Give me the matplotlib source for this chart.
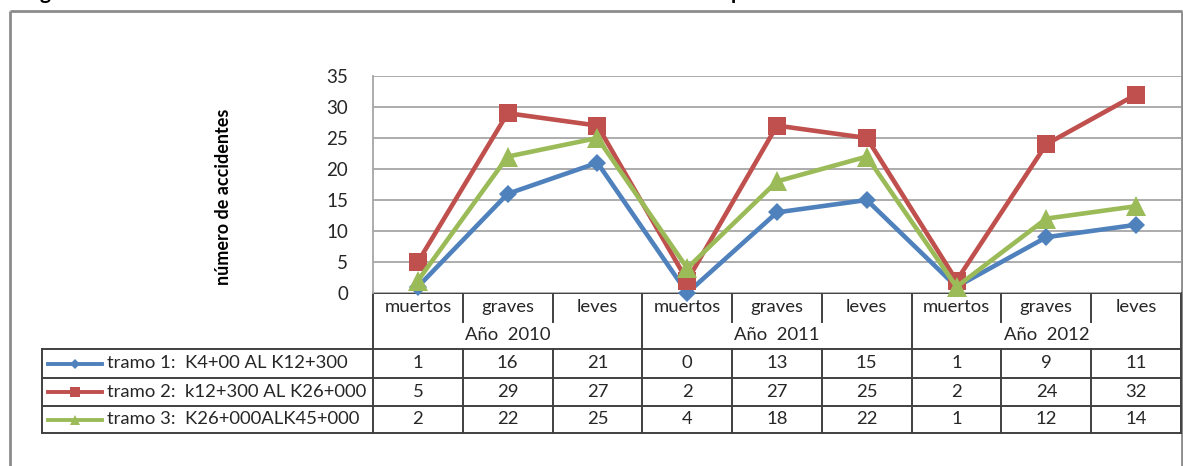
import numpy as np
from matplotlib import pyplot as plt
from matplotlib.lines import Line2D

# Accidents per road section, grouped by year and severity
categories = ['muertos', 'graves', 'leves'] * 3
years = ['Año  2010', 'Año  2011', 'Año  2012']
tramo_names = ['tramo 1:  K4+00 AL K12+300',
               'tramo 2:  k12+300 AL K26+000',
               'tramo 3:  K26+000ALK45+000']
tramo1 = [1, 16, 21, 0, 13, 15, 1, 9, 11]
tramo2 = [5, 29, 27, 2, 27, 25, 2, 24, 32]
tramo3 = [2, 22, 25, 4, 18, 22, 1, 12, 14]
y_ticks = [0, 5, 10, 15, 20, 25, 30, 35]

series = [tramo1, tramo2, tramo3]
colors = ['#4F81BD', '#C0504D', '#9BBB59']
markers = ['D', 's', '^']
msizes = [9.5, 13.5, 14]

FONT = ['Lato', 'DejaVu Sans']
TXT = '#262626'
GRID = '#a6a6a6'
TABLE = '#404040'

W, H = 1183, 466
fig = plt.figure(figsize=(W / 100, H / 100), dpi=100)

# overlay in pixel units (y grows downward) for frame and data table
ov = fig.add_axes([0, 0, 1, 1], zorder=0)
ov.set_xlim(0, W)
ov.set_ylim(H, 0)
ov.axis('off')

# plot area
left, right, top, bottom = 373, 1181, 76, 293
ax = fig.add_axes([left / W, 1 - bottom / H, (right - left) / W, (bottom - top) / H], zorder=1)
ax.set_xlim(-0.5, len(categories) - 0.5)
ax.set_ylim(0, 35)
ax.set_yticks(y_ticks)
ax.set_yticklabels([str(t) for t in y_ticks], family=FONT, fontsize=13.5, color=TXT)
ax.tick_params(axis='y', length=0, pad=18)
ax.set_xticks([])
ax.grid(axis='y', color=GRID, lw=1.3)
ax.set_axisbelow(True)
for s in ['top', 'right', 'bottom']:
    ax.spines[s].set_visible(False)
ax.spines['left'].set_color(GRID)
ax.spines['left'].set_linewidth(1.3)

x = np.arange(len(categories))
for vals, c, m, ms in zip(series, colors, markers, msizes):
    ax.plot(x, vals, color=c, lw=3.3, marker=m, markersize=ms,
            markeredgewidth=0, clip_on=False)

ax.set_ylabel('número de accidentes', family=FONT,
              fontweight='bold', fontsize=13, color='black')
ax.yaxis.set_label_coords(-0.1745, 0.442)

# frame around the chart
frame_kw = dict(color='#8c8c8c', lw=2, solid_capstyle='butt')
ov.plot([10, 1182], [11, 11], **frame_kw)
ov.plot([10, 10], [11, H], **frame_kw)
ov.plot([1182, 1182], [11, H], **frame_kw)

# heading above the frame, mostly beyond the top edge
ov.text(40, -1, 'g', family=FONT, fontweight='bold', fontsize=15, va='baseline', clip_on=False)
ov.text(731, -1, 'p', family=FONT, fontweight='bold', fontsize=15, va='baseline', clip_on=False)


def col_x(v):
    return ax.transData.transform((v, 0))[0]


n = len(categories)
edges = [col_x(i - 0.5) for i in range(n + 1)]
centers = [col_x(i) for i in range(n)]
row_cat, rows = 293, [349, 378, 406, 433]
tab_left = 42

line_kw = dict(color=TABLE, lw=1.4, solid_capstyle='projecting')
# horizontal rules
ov.plot([edges[0], edges[-1]], [row_cat, row_cat], **line_kw)
for yy in rows:
    ov.plot([tab_left, edges[-1]], [yy, yy], **line_kw)
ov.plot([tab_left, tab_left], [rows[0], rows[-1]], **line_kw)
# vertical rules
for i, ex in enumerate(edges):
    if i % 3 == 0:
        ov.plot([ex, ex], [row_cat, rows[-1]], **line_kw)
    else:
        ov.plot([ex, ex], [row_cat, 322], **line_kw)
        ov.plot([ex, ex], [rows[0], rows[-1]], **line_kw)

txt_kw = dict(family=FONT, fontsize=13.3, color=TXT, ha='center', va='center')
for cx, name in zip(centers, categories):
    ov.text(cx, 307, name, **txt_kw)
for g, yr in enumerate(years):
    ov.text((edges[3 * g] + edges[3 * g + 3]) / 2, 335, yr, **txt_kw)

for r, (vals, c, m, name) in enumerate(zip(series, colors, markers, tramo_names)):
    yc = (rows[r] + rows[r + 1]) / 2
    for cx, v in zip(centers, vals):
        ov.text(cx, yc, str(v), **txt_kw)
    ov.add_line(Line2D([48, 102], [yc, yc], color=c, lw=2.8))
    ov.add_line(Line2D([75], [yc], color=c, marker=m, markersize=[5, 7, 7][r],
                       markeredgewidth=0, lw=0))
    ov.text(107, yc, name, family=FONT, fontsize=13.3, color=TXT, ha='left', va='center')

fig.savefig('out.png', dpi=100)
